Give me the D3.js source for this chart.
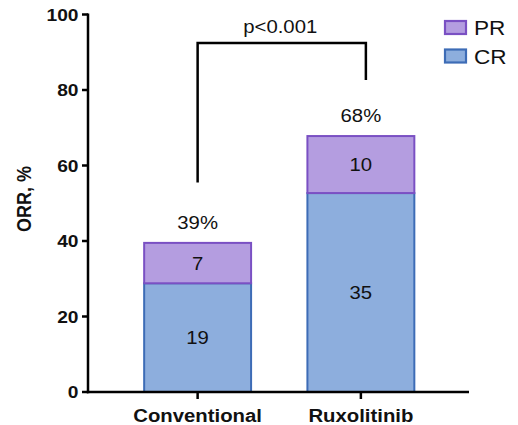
<!DOCTYPE html>
<html><head><meta charset="utf-8">
<script src="https://cdn.jsdelivr.net/npm/d3@7"></script>
<style>body{margin:0;background:#fff}text{font-family:"Liberation Sans",Arial,sans-serif;fill:#111}</style>
</head><body><svg id="c" width="518" height="425"></svg>
<script>
const categories = ["Conventional", "Ruxolitinib"];
const crPct = [28.8, 52.7];
const prPct = [10.7, 15.1];
const crN = [19, 35];
const prN = [7, 10];
const totalLabels = ["39%", "68%"];
const yTicks = [0, 20, 40, 60, 80, 100];
const pLabel = "p<0.001";
const seriesNames = ["PR", "CR"];

const colors = {CR:{fill:"#8daedd", stroke:"#3d6cb6"}, PR:{fill:"#b49de0", stroke:"#7a50c3"}};
const SX = 1.13;
const svg = d3.select("#c");
const y = d3.scaleLinear().domain([0,100]).range([392,14.5]);
const x = d3.scaleBand().domain(categories).range([116,442.5]).paddingInner(0.345).paddingOuter(0.1725);

function stxt(g, tx, ty, s, opts){
  const t = g.append("g").attr("transform",`translate(${tx},${ty}) scale(${SX},1)`).append("text").text(s);
  t.attr("text-anchor", opts.anchor||"middle").attr("font-size", opts.size||18).attr("font-weight", opts.weight||"normal");
  return t;
}

// bars
const data = categories.map((c,i)=>({c, cr:crPct[i], pr:prPct[i], crN:crN[i], prN:prN[i], tl:totalLabels[i]}));
const gb = svg.append("g");
data.forEach(d=>{
  const x0 = x(d.c), w = x.bandwidth();
  gb.append("rect").attr("x",x0).attr("width",w).attr("y",y(d.cr)).attr("height",y(0)-y(d.cr))
    .attr("fill",colors.CR.fill).attr("stroke",colors.CR.stroke).attr("stroke-width",2);
  gb.append("rect").attr("x",x0).attr("width",w).attr("y",y(d.cr+d.pr)).attr("height",y(d.cr)-y(d.cr+d.pr))
    .attr("fill",colors.PR.fill).attr("stroke",colors.PR.stroke).attr("stroke-width",2);
  const cx = x0 + w/2;
  stxt(gb, cx, (y(0)+y(d.cr))/2 + 6.5, d.crN, {size:18});
  stxt(gb, cx, (y(d.cr)+y(d.cr+d.pr))/2 + 6.5, d.prN, {size:18});
  stxt(gb, cx, y(d.cr+d.pr) - 14, d.tl, {size:18});
});

// axes
const ax = svg.append("g");
ax.append("line").attr("x1",88).attr("x2",88).attr("y1",y(100)-1).attr("y2",y(0)+1.2).attr("stroke","#000").attr("stroke-width",2.5);
ax.append("line").attr("x1",86.8).attr("x2",469).attr("y1",y(0)).attr("y2",y(0)).attr("stroke","#000").attr("stroke-width",2.5);
yTicks.forEach(t=>{
  ax.append("line").attr("x1",82).attr("x2",88).attr("y1",y(t)).attr("y2",y(t)).attr("stroke","#000").attr("stroke-width",2.5);
  stxt(ax, 78.5, y(t)+6, t, {anchor:"end", size:17, weight:"bold"});
});
categories.forEach(c=>{
  const cx = x(c)+x.bandwidth()/2;
  ax.append("line").attr("x1",cx).attr("x2",cx).attr("y1",y(0)).attr("y2",y(0)+7).attr("stroke","#000").attr("stroke-width",2.5);
  stxt(ax, cx, 422, c, {size:18, weight:"bold"});
});
ax.append("g").attr("transform","translate(31,199) rotate(-90) scale(1,1.1)")
  .append("text").text("ORR, %").attr("text-anchor","middle").attr("font-size",18).attr("font-weight","bold");

// significance bracket
const c1 = x(categories[0])+x.bandwidth()/2, c2 = x(categories[1])+x.bandwidth()/2;
svg.append("path").attr("d",`M${c1},182.5 V43 H${c2+5} V80`).attr("fill","none").attr("stroke","#000").attr("stroke-width",2.5);
stxt(svg, (c1+c2)/2 + 1, 33, pLabel, {size:18});

// legend
const lg = svg.append("g");
seriesNames.forEach((s,i)=>{
  const yy = 21 + i*28.5;
  lg.append("rect").attr("x",445).attr("y",yy).attr("width",21).attr("height",13)
    .attr("fill",colors[s].fill).attr("stroke",colors[s].stroke).attr("stroke-width",2.2);
  stxt(lg, 474, yy+14, s, {anchor:"start", size:20});
});
</script></body></html>
